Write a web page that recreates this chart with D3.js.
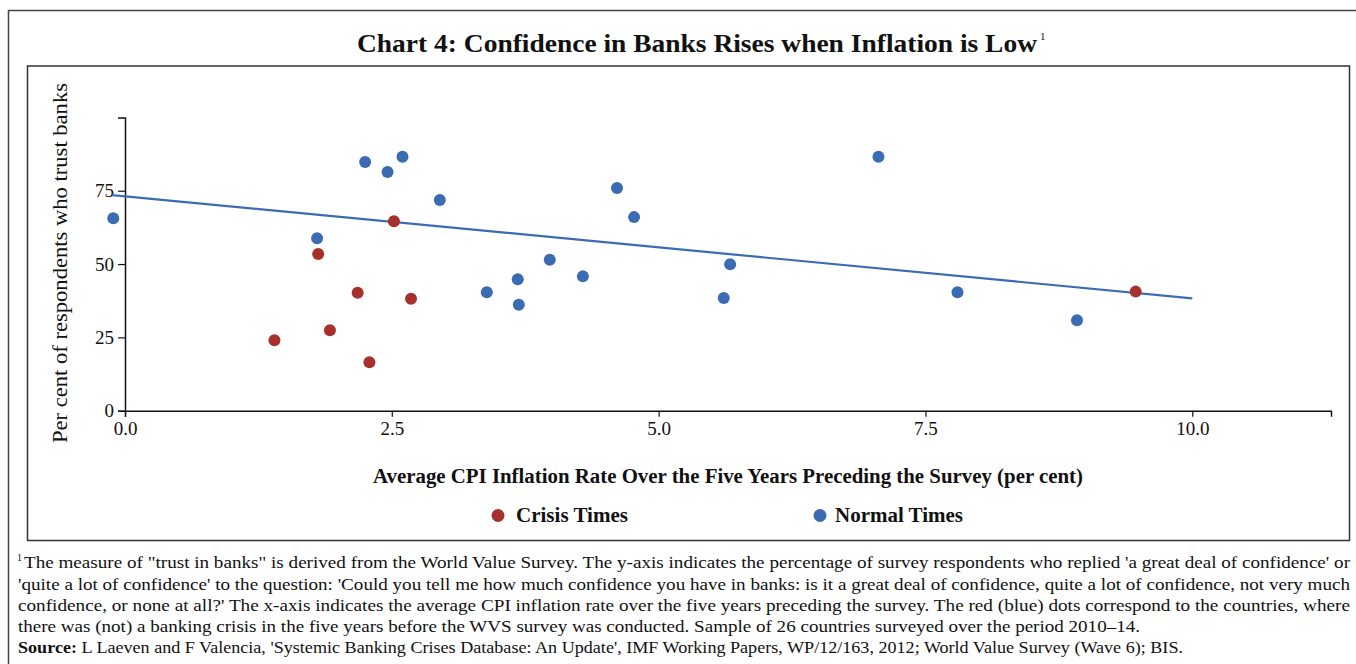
<!DOCTYPE html>
<html>
<head>
<meta charset="utf-8">
<script src="https://cdn.jsdelivr.net/npm/d3@7"></script>
<style>
  html, body { margin: 0; padding: 0; background: #fff; }
  svg { display: block; }
  text { font-family: "Liberation Serif", "DejaVu Serif", serif; fill: #111; }
</style>
</head>
<body>
<svg id="chart" width="1356" height="664"></svg>
<script>
// ---- data ----
const crisisX = [1.40, 1.81, 1.92, 2.18, 2.29, 2.52, 2.68, 9.47];
const crisisY = [24.0, 53.4, 27.4, 40.2, 16.5, 64.6, 38.2, 40.6];
const normalX = [-0.11, 1.80, 2.25, 2.46, 2.60, 2.95, 3.39, 3.68, 3.69, 3.98, 4.29, 4.61, 4.77, 5.61, 5.67, 7.06, 7.80, 8.92];
const normalY = [65.6, 58.8, 84.8, 81.4, 86.6, 71.8, 40.4, 44.8, 36.1, 51.5, 45.8, 75.9, 66.0, 38.4, 49.9, 86.6, 40.4, 30.8];
const trendX = [-0.12, 10.0];
const trendY = [73.5, 38.3];
const xTicks = [0, 2.5, 5, 7.5, 10];
const yTicks = [0, 25, 50, 75];
const seriesNames = ["Crisis Times", "Normal Times"];
const titleText = "Chart 4: Confidence in Banks Rises when Inflation is Low";
const xLabel = "Average CPI Inflation Rate Over the Five Years Preceding the Survey (per cent)";
const yLabel = "Per cent of respondents who trust banks";
const footLines = [
  "The measure of \"trust in banks\" is derived from the World Value Survey. The y-axis indicates the percentage of survey respondents who replied 'a great deal of confidence' or",
  "'quite a lot of confidence' to the question: 'Could you tell me how much confidence you have in banks: is it a great deal of confidence, quite a lot of confidence, not very much",
  "confidence, or none at all?' The x-axis indicates the average CPI inflation rate over the five years preceding the survey. The red (blue) dots correspond to the countries, where",
  "there was (not) a banking crisis in the five years before the WVS survey was conducted. Sample of 26 countries surveyed over the period 2010\u201314."
];
const sourceLabel = "Source:";
const sourceText = " L Laeven and F Valencia, 'Systemic Banking Crises Database: An Update', IMF Working Papers, WP/12/163, 2012; World Value Survey (Wave 6); BIS.";

const RED = "#a8302c", BLUE = "#3b6cb3";

const svg = d3.select("#chart");

// frames
svg.append("rect").attr("x", 8.5).attr("y", 10.5).attr("width", 1400).attr("height", 700)
  .attr("fill", "none").attr("stroke", "#444").attr("stroke-width", 1.5);
svg.append("rect").attr("x", 27.5).attr("y", 66).attr("width", 1322).attr("height", 474.5)
  .attr("fill", "none").attr("stroke", "#333").attr("stroke-width", 1.5);

// title
svg.append("text").attr("x", 357).attr("y", 52)
  .style("font-weight", "bold").style("font-size", "26px")
  .attr("textLength", 680).attr("lengthAdjust", "spacingAndGlyphs").text(titleText);
svg.append("text").attr("x", 1040).attr("y", 40).style("font-size", "11px").text("1");

// scales
const x = d3.scaleLinear().domain([0, 11.3]).range([125, 1331]);
const y = d3.scaleLinear().domain([0, 100]).range([410.7, 117.4]);

// axes
const xAxis = svg.append("g").attr("transform", "translate(0,410.7)")
  .call(d3.axisBottom(x).tickValues(xTicks).tickFormat(d3.format(".1f")).tickSize(6).tickSizeOuter(6).tickPadding(5));
const yAxis = svg.append("g").attr("transform", "translate(125,0)")
  .call(d3.axisLeft(y).tickValues(yTicks).tickSize(7).tickSizeOuter(7).tickPadding(4));
[xAxis, yAxis].forEach(g => {
  g.selectAll("path.domain").attr("stroke", "#111").attr("stroke-width", 1.5);
  g.selectAll(".tick line").attr("stroke", "#111").attr("stroke-width", 1.2);
  g.selectAll(".tick text").style("font-family", "'Liberation Serif', serif").style("font-size", "19px").attr("fill", "#111");
});

// trend line
const trend = trendX.map((v, i) => [v, trendY[i]]);
svg.append("path").datum(trend)
  .attr("d", d3.line().x(d => x(d[0])).y(d => y(d[1])))
  .attr("stroke", BLUE).attr("stroke-width", 2.2).attr("fill", "none");

// points
const crisis = crisisX.map((v, i) => ({ x: v, y: crisisY[i] }));
const normal = normalX.map((v, i) => ({ x: v, y: normalY[i] }));
svg.append("g").selectAll("circle").data(normal).join("circle")
  .attr("cx", d => x(d.x)).attr("cy", d => y(d.y)).attr("r", 6).attr("fill", BLUE);
svg.append("g").selectAll("circle").data(crisis).join("circle")
  .attr("cx", d => x(d.x)).attr("cy", d => y(d.y)).attr("r", 6).attr("fill", RED);

// axis titles
svg.append("text").attr("x", 373).attr("y", 483)
  .style("font-weight", "bold").style("font-size", "20.5px")
  .attr("textLength", 710).attr("lengthAdjust", "spacingAndGlyphs").text(xLabel);
svg.append("text").attr("transform", "translate(67,443) rotate(-90)")
  .style("font-size", "22px")
  .attr("textLength", 360).attr("lengthAdjust", "spacingAndGlyphs").text(yLabel);

// legend
const legend = [
  { name: seriesNames[0], color: RED, cx: 498, tx: 516, w: 112 },
  { name: seriesNames[1], color: BLUE, cx: 820, tx: 835, w: 128 }
];
legend.forEach(l => {
  svg.append("circle").attr("cx", l.cx).attr("cy", 515.5).attr("r", 6.5).attr("fill", l.color);
  svg.append("text").attr("x", l.tx).attr("y", 522).style("font-weight", "bold").style("font-size", "20px")
    .attr("textLength", l.w).attr("lengthAdjust", "spacingAndGlyphs").text(l.name);
});

// footnote
svg.append("text").attr("x", 17).attr("y", 561).style("font-size", "10px").text("1");
const footY = [568, 590, 611, 632];
const footStart = [24, 18, 18, 18];
const footEnd = [1350, 1350, 1350, 1140];
footLines.forEach((s, i) => {
  svg.append("text").attr("x", footStart[i]).attr("y", footY[i]).style("font-size", "17px")
    .attr("textLength", footEnd[i] - footStart[i]).attr("lengthAdjust", "spacingAndGlyphs").text(s);
});
const src = svg.append("text").attr("x", 18).attr("y", 653).style("font-size", "17px")
  .attr("textLength", 1183 - 18).attr("lengthAdjust", "spacingAndGlyphs");
src.append("tspan").style("font-weight", "bold").text(sourceLabel);
src.append("tspan").text(sourceText);
</script>
</body>
</html>
